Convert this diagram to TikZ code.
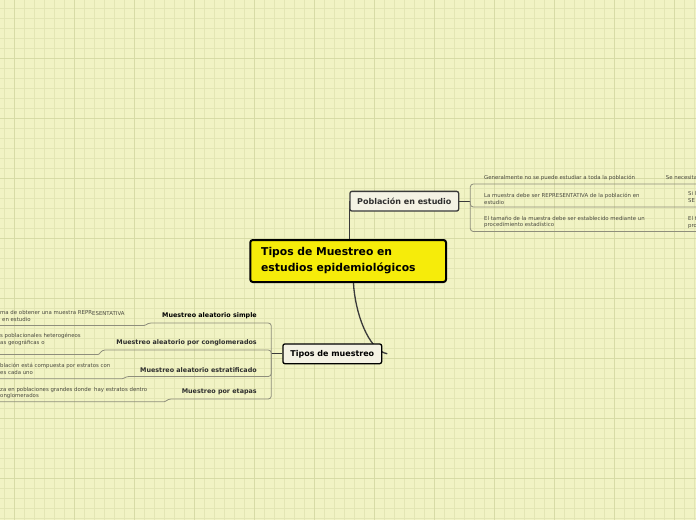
\documentclass[tikz,border=0pt]{standalone}
\usepackage{fontspec}
\setmainfont{DejaVu Sans}
\usetikzlibrary{backgrounds}

\definecolor{paper}{HTML}{F1F3C4}
\definecolor{gridminor}{HTML}{E3E6B4}
\definecolor{gridmajor}{HTML}{D7DBA6}
\definecolor{rootyellow}{HTML}{F6EC0A}
\definecolor{boxfill}{HTML}{F4F2E4}
\definecolor{stemgray}{HTML}{3A3A3A}
\definecolor{twiggray}{HTML}{8E8E7C}
\definecolor{leaftext}{HTML}{4A4A40}
\definecolor{textdark}{HTML}{2E2E2E}

\tikzset{
  topic/.style={draw=black, line width=2pt, rounded corners=2.5pt, fill=rootyellow,
    font=\fontsize{10.8}{13}\selectfont\bfseries, align=left, text width=174pt,
    inner xsep=10.85pt, inner ysep=0pt, minimum height=42pt},
  mainbox/.style={line width=1.3pt, rounded corners=2pt, fill=boxfill,
    font=\fontsize{8}{10}\selectfont\bfseries, inner sep=0pt, minimum height=19.7pt},
  subtopic/.style={anchor=east, inner sep=0pt, text=#1,
    font=\fontsize{6.4}{8}\selectfont\bfseries},
  subtopic/.default=textdark,
  leaf/.style={anchor=west, inner sep=0pt, align=left, text=leaftext,
    font=\fontsize{5.4}{6.7}\selectfont},
  stem/.style={draw=stemgray, line width=1.3pt},
  twig/.style={draw=twiggray, line width=0.8pt},
}

\begin{document}
\begin{tikzpicture}[x=1pt, y=-1pt]
    \useasboundingbox (0,0) rectangle (696,520);
    \clip (0,0) rectangle (696,520);

    % paper with grid
    \begin{scope}[on background layer]
        \fill[paper] (0,0) rectangle (696,520);
        \foreach \gx in {4,14,...,694} \draw[gridminor, line width=0.8pt] (\gx,0) -- (\gx,520);
        \foreach \gy in {8,18,...,518} \draw[gridminor, line width=0.8pt] (0,\gy) -- (696,\gy);
        \foreach \gx in {14,74,...,674} \draw[gridmajor, line width=0.9pt] (\gx,0) -- (\gx,520);
        \foreach \gy in {58,118,...,478} \draw[gridmajor, line width=0.9pt] (0,\gy) -- (696,\gy);
    \end{scope}

    % central topic and main branches
    \node[topic] (root) at (348.15,261) {\vspace*{3pt}Tipos de Muestreo en\\estudios epidemiológicos};
    \node[mainbox, draw=stemgray, text=textdark, minimum width=108.7pt] (pob) at (404.3,201.2) {Población en estudio};
    \node[mainbox, draw=black, text=black, minimum width=98.7pt] (tipos) at (332.3,353.8) {Tipos de muestreo};

    % right side: Población en estudio
    \node[leaf] (gen) at (484,177.8) {Generalmente no se puede estudiar a toda la población};
    \node[leaf] (repr) at (484,198.6) {La muestra debe ser REPRESENTATIVA de la población en\\estudio};
    \node[leaf] (tam) at (484,222) {El tamaño de la muestra debe ser establecido mediante un\\procedimiento estadístico};
    \node[leaf] (nec) at (665.7,177.5) {Se necesita};
    \node[leaf] (sesgo) at (688,196.9) {Si l\\SE};
    \node[leaf] (proc) at (688,222.7) {El t\\pro};

    % left side: Tipos de muestreo
    \node[subtopic=black] (simple) at (257,315.4) {Muestreo aleatorio simple};
    \node[subtopic] (congl) at (257,342.7) {Muestreo aleatorio por conglomerados};
    \node[subtopic] (estrat) at (257,369.7) {Muestreo aleatorio estratificado};
    \node[subtopic] (etapas) at (257,392.3) {Muestreo por etapas};

    \node[leaf] (simpleA) at (0,315.8) {ma de obtener una muestra REPR\\\hspace*{2pt}en estudio};
    \node[leaf] (simpleB) at (92,313.3) {ESENTATIVA};
    \node[leaf] (conglA) at (0,339.2) {s poblacionales heterogéneos\\as geográficas o};
    \node[leaf] (estratA) at (0,369.2) {blación está compuesta por estratos con\\es cada uno};
    \node[leaf] (etapasA) at (0,392.9) {za en poblaciones grandes donde\\onglomerados};
    \node[leaf] (etapasB) at (94,390) {hay estratos dentro};

    % connectors
    \begin{scope}[on background layer]
        \draw[stem] (root.north -| pob.west) -- (pob.west);
        \draw[stem] ([xshift=5.3pt]root.south) .. controls (355,312) and (368,350) .. ([xshift=5pt]tipos.east);
        \draw[stem, line width=1pt] (pob.east) -- ++(11,0) coordinate (pj);
        \draw[stem, line width=1pt] (tipos.west) -- ++(-11,0) coordinate (tj);

        \foreach \yc in {184,207,231.5}
            \draw[twig, rounded corners=3pt] (pj) |- (696,\yc);

        \foreach \yc/\xs/\yg in {323/148/325.5, 350/102/354.5, 376.5/126/378.8, 399/168/401.8}
            \draw[twig] [rounded corners=3pt] (tj) |- (\xs,\yc) [rounded corners=1pt] -- (\xs-3,\yg) -- (0,\yg);
    \end{scope}
\end{tikzpicture}
\end{document}
